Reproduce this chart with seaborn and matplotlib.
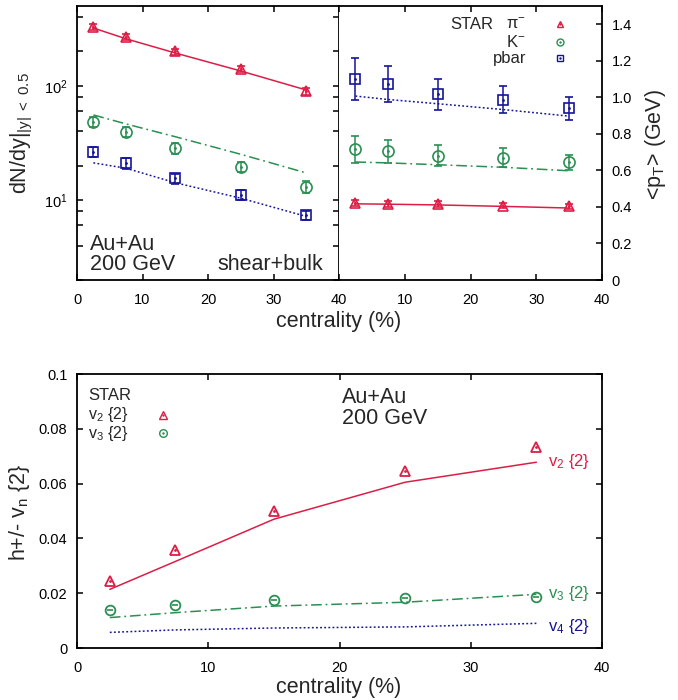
import numpy as np
import pandas as pd
import matplotlib
matplotlib.use("Agg")
import matplotlib.pyplot as plt
import matplotlib.ticker as mticker
import seaborn as sns

# centrality bins (%)
cent = [2.5, 7.5, 15, 25, 35]

# dN/dy, STAR data and hydro (shear+bulk)
dndy_pi = [330, 268, 200, 140, 90]
dndy_pi_err = [20, 16, 12, 9, 6]
dndy_k = [48.6, 39.7, 28.4, 19.6, 13.1]
dndy_k_err = [5.0, 4.0, 3.0, 2.0, 1.5]
dndy_p = [26.5, 21.2, 15.5, 11.1, 7.4]
dndy_p_err = [2.8, 2.3, 1.6, 1.1, 0.7]
dndy_pi_model = [321, 258, 194, 135, 92]
dndy_k_model = [55.7, 46.4, 35.9, 25.2, 17.3]
dndy_p_model = [21.2, 19.0, 14.2, 10.4, 7.2]

# <pT> (GeV)
pt_pi = [0.421, 0.417, 0.415, 0.406, 0.403]
pt_pi_err = [0.016, 0.015, 0.015, 0.014, 0.014]
pt_k = [0.717, 0.705, 0.681, 0.668, 0.644]
pt_k_err = [0.074, 0.064, 0.057, 0.052, 0.043]
pt_p = [1.102, 1.071, 1.016, 0.988, 0.939]
pt_p_err = [0.114, 0.099, 0.084, 0.073, 0.061]
pt_pi_model = [0.417, 0.415, 0.411, 0.403, 0.394]
pt_k_model = [0.646, 0.641, 0.631, 0.617, 0.598]
pt_p_model = [1.007, 0.988, 0.965, 0.933, 0.897]

# charged hadron vn{2}
v2_data = [0.0246, 0.0358, 0.0501, 0.0646, 0.0732]
v3_data = [0.0139, 0.0157, 0.0175, 0.0184, 0.0187]
v2_model = [0.0214, 0.0316, 0.0470, 0.0605, 0.0678]
v3_model = [0.0111, 0.0129, 0.0153, 0.0167, 0.0196]
v4_model = [0.0057, 0.0066, 0.0073, 0.0077, 0.0090]

RED = "#dc1e46"
GREEN = "#2a8f52"
BLUE = "#14149a"
DASHDOT = (0, (7, 2.5, 1.2, 2.5))
DOTTED = (0, (1.2, 1.5))

sns.set_theme(style="ticks")
plt.rcParams["font.family"] = ["Liberation Sans", "DejaVu Sans"]
plt.rcParams["mathtext.fontset"] = "custom"
plt.rcParams["mathtext.rm"] = "Liberation Sans"
plt.rcParams["mathtext.it"] = "Liberation Sans:italic"
plt.rcParams["mathtext.default"] = "regular"
plt.rcParams["axes.linewidth"] = 1.3
plt.rcParams["axes.edgecolor"] = "black"

TICK_FS = 10.5
LABEL_FS = 15.5


def style_ticks(ax, left=True, right=True):
    ax.tick_params(which="both", direction="in", length=4, width=1.1,
                   top=True, bottom=True, left=left, right=right,
                   labelsize=TICK_FS, pad=7, colors="black")


def data_points(ax, y, yerr, color, marker, ms):
    ax.errorbar(cent, y, yerr=yerr, fmt=marker, color=color, mfc="none",
                mec=color, ms=ms, mew=1.2, capsize=3, elinewidth=1.1,
                capthick=1.1)
    ax.plot(cent, y, ".", color=color, ms=2)


def model_line(ax, y, color, ls):
    df = pd.DataFrame({"c": cent, "v": y})
    sns.lineplot(data=df, x="c", y="v", ax=ax, color=color, linestyle=ls,
                 lw=1.1, estimator=None, sort=False)
    ax.set_xlabel("")
    ax.set_ylabel("")


fig = plt.figure(figsize=(6.78, 7.0), dpi=100)
ax1 = fig.add_axes([77 / 678, 0.6, 262 / 678, 274 / 700])
ax2 = fig.add_axes([339 / 678, 0.6, 263 / 678, 274 / 700])
ax3 = fig.add_axes([77 / 678, 52 / 700, 525 / 678, 274 / 700])

# ---- top left: dN/dy
model_line(ax1, dndy_pi_model, RED, "-")
model_line(ax1, dndy_k_model, GREEN, DASHDOT)
model_line(ax1, dndy_p_model, BLUE, DOTTED)
data_points(ax1, dndy_pi, dndy_pi_err, RED, "^", 7.5)
data_points(ax1, dndy_k, dndy_k_err, GREEN, "o", 8)
data_points(ax1, dndy_p, dndy_p_err, BLUE, "s", 7.5)
ax1.set_yscale("log")
ax1.set_ylim(2, 500)
ax1.set_xlim(0, 40)
ax1.set_xticks([0, 10, 20, 30, 40])
ax1.yaxis.set_major_locator(mticker.LogLocator(base=10, subs=(1.0,)))
ax1.yaxis.set_minor_locator(mticker.LogLocator(base=10, subs=(2, 4, 6, 8)))
ax1.yaxis.set_minor_formatter(mticker.NullFormatter())
style_ticks(ax1)
ax1.tick_params(axis="x", pad=9)
ax1.text(0.05, 0.128, "Au+Au", transform=ax1.transAxes, fontsize=LABEL_FS,
         va="center", ha="left")
ax1.text(0.05, 0.055, "200 GeV", transform=ax1.transAxes, fontsize=LABEL_FS,
         va="center", ha="left")
ax1.text(0.94, 0.055, "shear+bulk", transform=ax1.transAxes,
         fontsize=LABEL_FS, va="center", ha="right")

# ---- top right: <pT>
model_line(ax2, pt_pi_model, RED, "-")
model_line(ax2, pt_k_model, GREEN, DASHDOT)
model_line(ax2, pt_p_model, BLUE, DOTTED)
data_points(ax2, pt_pi, pt_pi_err, RED, "^", 7.5)
data_points(ax2, pt_k, pt_k_err, GREEN, "o", 8)
data_points(ax2, pt_p, pt_p_err, BLUE, "s", 7.5)
ax2.set_xlim(0, 40)
ax2.set_ylim(0, 1.5)
ax2.set_xticks([0, 10, 20, 30, 40])
ax2.set_xticklabels(["", "10", "20", "30", "40"])
ax2.set_yticks(np.arange(0, 1.41, 0.2))
ax2.yaxis.set_major_formatter(
    mticker.FuncFormatter(lambda v, p: "0" if abs(v) < 1e-9 else f"{v:.1f}"))
style_ticks(ax2, left=False, right=True)
ax2.tick_params(axis="y", labelleft=False, labelright=True, pad=7)
ax2.tick_params(axis="x", pad=9)
ax2.spines["left"].set_visible(False)

legend_rows = [("π$^{-}$", RED, "^", 0.934),
               ("K$^{-}$", GREEN, "o", 0.869),
               ("pbar", BLUE, "s", 0.810)]
ax2.text(0.586, 0.934, "STAR", transform=ax2.transAxes, fontsize=12,
         ha="right", va="center")
for lab, col, mk, yy in legend_rows:
    ax2.text(0.711, yy, lab, transform=ax2.transAxes, fontsize=12,
             ha="right", va="center")
    ax2.plot([0.84], [yy], mk, transform=ax2.transAxes, mfc="none", mec=col,
             ms=5, mew=1.0, clip_on=False)
    ax2.plot([0.84], [yy], ".", transform=ax2.transAxes, color=col, ms=1.5,
             clip_on=False)

fig.text(0.5, 1 - 322 / 700, "centrality (%)", fontsize=LABEL_FS,
         ha="center", va="center")
fig.text(0.033, 1 - 133 / 700, r"dN/dy$|_{|y|\ <\ 0.5}$", fontsize=LABEL_FS,
         rotation=90, ha="center", va="center")
fig.text(655 / 678, 1 - 145 / 700, r"<p$_{T}$> (GeV)", fontsize=LABEL_FS,
         rotation=90, ha="center", va="center")

# ---- bottom: vn{2}
model_line(ax3, v2_model, RED, "-")
model_line(ax3, v3_model, GREEN, DASHDOT)
model_line(ax3, v4_model, BLUE, DOTTED)
ax3.plot(cent, v2_data, "^", mfc="none", mec=RED, ms=7, mew=1.3)
ax3.plot(cent, v2_data, ".", color=RED, ms=2)
ax3.plot(cent, v3_data, "o", mfc="none", mec=GREEN, ms=7, mew=1.3)
ax3.plot(cent, v3_data, "_", color=GREEN, ms=5, mew=1.2)
ax3.set_xlim(0, 40)
ax3.set_ylim(0, 0.1)
ax3.set_xticks([0, 10, 20, 30, 40])
ax3.set_yticks(np.arange(0, 0.101, 0.02))
ax3.yaxis.set_major_formatter(mticker.FuncFormatter(lambda v, p: f"{v:g}"))
style_ticks(ax3)
ax3.tick_params(axis="x", pad=9)

ax3.text(0.021, 0.922, "STAR", transform=ax3.transAxes, fontsize=12,
         ha="left", va="center")
for lab, col, mk, yy in [(r"v$_2$ {2}", RED, "^", 0.852),
                         (r"v$_3$ {2}", GREEN, "o", 0.784)]:
    ax3.text(0.021, yy, lab, transform=ax3.transAxes, fontsize=11.5,
             ha="left", va="center")
    ax3.plot([0.164], [yy], mk, transform=ax3.transAxes, mfc="none", mec=col,
             ms=5.5, mew=1.0)
    ax3.plot([0.164], [yy], ".", transform=ax3.transAxes, color=col, ms=1.5)

ax3.text(0.505, 0.916, "Au+Au", transform=ax3.transAxes, fontsize=LABEL_FS,
         ha="left", va="center")
ax3.text(0.505, 0.839, "200 GeV", transform=ax3.transAxes, fontsize=LABEL_FS,
         ha="left", va="center")
for lab, col, yy in [(r"v$_2$ {2}", RED, 0.679),
                     (r"v$_3$ {2}", GREEN, 0.200),
                     (r"v$_4$ {2}", BLUE, 0.080)]:
    ax3.text(0.897, yy, lab, transform=ax3.transAxes, fontsize=12,
             ha="left", va="center", color=col)

fig.text(0.5, 1 - 687 / 700, "centrality (%)", fontsize=LABEL_FS,
         ha="center", va="center")
fig.text(20 / 678, 1 - 512 / 700, r"h+/- v$_n$ {2}", fontsize=LABEL_FS,
         rotation=90, ha="center", va="center")

fig.savefig("out.png", dpi=100)
